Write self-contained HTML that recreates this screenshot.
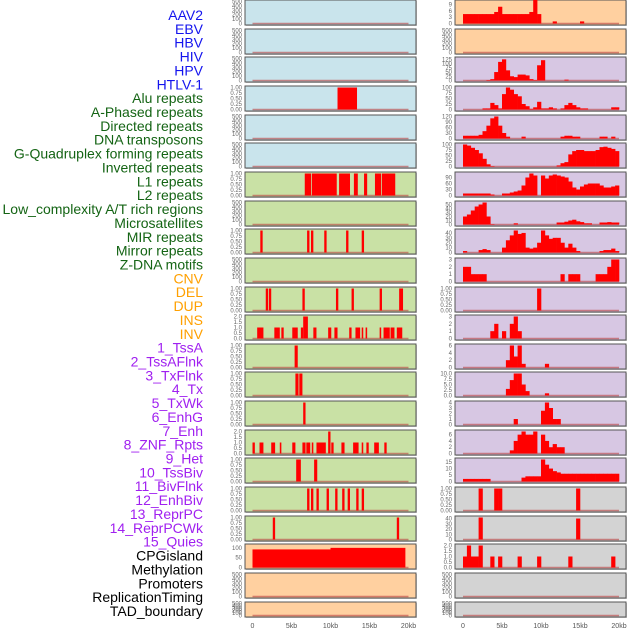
<!DOCTYPE html>
<html><head><meta charset="utf-8">
<style>
body{margin:0;background:#fff;width:630px;height:630px;overflow:hidden}
svg{display:block;font-family:"Liberation Sans",sans-serif}
</style></head>
<body>
<svg id="chart" width="630" height="630"></svg>
<script>
// ---- data ----
var trackLabels = ["AAV2","EBV","HBV","HIV","HPV","HTLV-1","Alu repeats","A-Phased repeats","Directed repeats","DNA transposons","G-Quadruplex forming repeats","Inverted repeats","L1 repeats","L2 repeats","Low_complexity A/T rich regions","Microsatellites","MIR repeats","Mirror repeats","Z-DNA motifs","CNV","DEL","DUP","INS","INV","1_TssA","2_TssAFlnk","3_TxFlnk","4_Tx","5_TxWk","6_EnhG","7_Enh","8_ZNF_Rpts","9_Het","10_TssBiv","11_BivFlnk","12_EnhBiv","13_ReprPC","14_ReprPCWk","15_Quies","CPGisland","Methylation","Promoters","ReplicationTiming","TAD_boundary"];
var labelGroups = [6,13,5,15,6];
var xTickLabels = ["0","5kb","10kb","15kb","20kb"];
var xTickValues = [0,5,10,15,20];
// left column: intervals [startKb, endKb, value]
var leftIntervals = [
 [],[],[],
 [[10.9,13.4,1]],
 [],[],
 [[6.7,7.5,1],[7.6,10.8,1],[11.1,12.5,1],[13.0,13.5,1],[14.3,14.7,1],[15.7,16.5,1],[16.6,18.3,1]],
 [],
 [[1.0,1.3,1],[7.0,7.3,1],[7.5,7.8,1],[9.2,9.5,1],[12.0,12.3,1],[14.0,14.3,1]],
 [],
 [[1.7,2.0,1],[2.1,2.4,1],[6.4,6.7,1],[10.7,11.0,1],[12.7,13.0,1],[16.3,16.6,1],[18.8,19.3,1]],
 [[0.6,1.4,1],[2.8,3.5,1],[3.7,4.0,1],[5.1,5.8,1],[6.2,6.5,1],[6.5,7.1,2],[7.8,8.2,1],[9.7,10.1,1],[10.5,10.9,1],[12.4,12.7,1],[13.2,13.8,1],[14.0,14.2,1],[14.5,14.7,1],[16.3,16.5,1],[16.8,17.6,1],[17.7,18.2,1],[18.5,19.2,1]],
 [[5.4,5.8,1]],
 [[5.5,5.9,1],[6.0,6.4,1]],
 [[6.5,6.8,1]],
 [[0,0.3,1],[0.9,1.4,1],[2.4,2.9,1],[3.5,3.7,1],[5.1,5.5,1],[6.4,6.8,1],[6.9,7.4,1],[7.6,7.8,1],[8.2,9.4,1],[9.7,10.0,2],[10.1,10.4,1],[11.4,11.8,1],[12.9,13.6,1],[14.0,14.2,1],[14.6,14.9,1],[15.6,16.2,1],[16.9,17.2,1]],
 [[5.6,6.2,1],[7.9,8.3,1]],
 [[7.0,7.3,1],[7.5,7.8,1],[8.2,8.5,1],[9.5,9.8,1],[10.6,10.9,1],[11.5,11.8,1],[12.2,12.5,1],[13.3,13.6,1],[14.0,14.3,1]],
 [[2.6,2.9,1],[18.5,18.8,1]],
 [[0,10,92],[10,19.6,100]],
 [],[]
];
var leftTicks = [
 [0,100,200,300,400,500],[0,100,200,300,400,500],[0,100,200,300,400,500],
 ["0.00","0.25","0.50","0.75","1.00"],[0,100,200,300,400,500],[0,100,200,300,400,500],
 ["0.00","0.25","0.50","0.75","1.00"],[0,100,200,300,400,500],["0.00","0.25","0.50","0.75","1.00"],
 [0,100,200,300,400,500],["0.00","0.25","0.50","0.75","1.00"],["0.0","0.5","1.0","1.5","2.0"],
 ["0.00","0.25","0.50","0.75","1.00"],["0.00","0.25","0.50","0.75","1.00"],["0.00","0.25","0.50","0.75","1.00"],
 ["0.0","0.5","1.0","1.5","2.0"],["0.00","0.25","0.50","0.75","1.00"],["0.00","0.25","0.50","0.75","1.00"],
 ["0.00","0.25","0.50","0.75","1.00"],[0,50,100],[0,100,200,300,400,500],[0,100,200,300,400,500]
];
var leftMax = [500,500,500,1,500,500,1,500,1,500,1,2,1,1,1,2,1,1,1,112,500,500];
// right column: 40 bins of 0.5kb
var rightBins = [
 [4.5,4.5,4.5,4.5,4.5,4.5,4.5,4.5,5.5,8,4.5,4.5,4.5,4.5,4.5,4.5,4.5,5.5,12,4.5,0,0,0,1,0,0,0,0,0,0,1,0,0,0,0,0,0,0,0,0],
 [],
 [0,0,0,0,0,0,3,8,50,110,125,60,25,20,35,35,30,8,3,90,120,0,0,0,0,0,5,0,0,0,0,0,0,0,0,0,0,0,0,0],
 [0,0,0,0,0,5,5,30,20,5,70,100,90,70,60,25,15,3,10,35,5,5,10,5,0,5,20,30,20,10,5,5,0,0,0,0,0,0,10,10],
 [15,15,15,15,20,40,70,110,120,70,30,10,0,0,0,10,0,0,0,0,0,0,0,0,0,10,15,15,10,10,0,0,0,0,0,10,10,0,10,0],
 [100,95,85,75,60,35,10,2,0,0,0,0,0,0,0,0,0,0,0,0,0,0,0,0,5,15,20,55,70,75,75,70,70,70,75,88,90,85,80,70],
 [10,10,10,10,10,10,10,5,0,0,10,10,15,20,25,50,90,110,100,0,100,85,100,105,100,95,90,70,40,30,45,55,60,60,60,50,40,40,45,50],
 [20,25,35,45,50,55,20,1,0,0,0,0,0,3,0,0,0,0,0,0,0,0,0,0,5,5,7,10,12,8,6,3,3,0,0,5,5,6,5,5],
 [3,0,0,0,5,7,5,0,0,0,10,25,35,45,38,40,10,8,10,20,45,35,28,30,30,20,10,18,10,3,0,0,0,0,0,3,5,5,8,3],
 [2,2,1,1,1,1,0,0,0,0,0,0,0,0,0,0,0,0,0,0,0,0,0,0,0,1,0,1,1,1,0,0,0,0,1,1,1,2,3,3],
 [0,0,0,0,0,0,0,0,0,0,0,0,0,0,0,0,0,0,0,1,0,0,0,0,0,0,0,0,0,0,0,0,0,0,0,0,0,0,0,0],
 [0,0,0,0,0,0,0,1,2,0,1,0,2,3,1,0,0,0,0,0,0,0,0,0,0,0,0,0,0,0,0,0,0,0,0,0,0,0,0,0],
 [0,0,0,0,0,0,0,0,0,0,0,2,6,3,6,1,0,0,0,0,0,1,0,0,0,0,0,0,0,0,0,0,0,0,0,0,0,0,0,0],
 [0,0,0,0,0,0,0,0,0,0,0,3,7,10,10,5,2,0,0,0,0,1,0,0,0,0,0,0,0,0,0,0,0,0,0,0,0,0,0,0],
 [0,0,0,0,0,0,0,0,0,0,0,0,0,1,0,0,0,0,0,0,2.5,4,3,1,1,0,0,0,0,0,0,0,0,0,0,0,0,0,0,0],
 [0,0,0,0,0,0,0,0,0,0,0,0,1,4,6,7,6,6,7,0,6,4,2,3,2,2,0,0,0,0,0,0,0,0,0,0,0,0,0,0],
 [2,2,2,2,2,2,2,0,0,0,0,0,0,0,0,3,4,4,4,4,17,13,10,8,7,6,6,6,6,6,6,6,6,6,6,6,6,6,6,6],
 [0,0,0,0,1,0,0,0,1,1,0,0,0,0,0,0,0,0,0,0,0,0,0,0,0,0,0,0,0,1,0,0,0,0,0,0,0,0,0,0],
 [0,0,0,0,42,0,0,0,0,0,0,0,0,0,0,0,0,0,0,0,0,0,0,0,0,0,0,0,0,40,0,0,0,0,0,0,0,0,0,0],
 [1,2,1,1,2,0,0,1,0,1,0,0,0,0,1,0,0,0,0,1,0,0,0,0,0,0,0,1,0,0,0,0,0,0,0,0,0,0,1,0],
 [],[]
];
var rightTicks = [
 [0,3,6,9],[0,100,200,300,400,500],[0,25,50,75,100,125],[0,25,50,75,100],[0,30,60,90,120],[0,25,50,75,100],
 [0,30,60,90],[0,10,20,30,40,50],[0,10,20,30,40],[0,1,2,3],["0.00","0.25","0.50","0.75","1.00"],[0,1,2,3],
 [0,2,4,6],["0.0","2.5","5.0","7.5","10.0"],[0,1,2,3,4],[0,2,4,6],[0,5,10,15],["0.00","0.25","0.50","0.75","1.00"],
 [0,10,20,30,40],["0.0","0.5","1.0","1.5","2.0"],[0,100,200,300,400,500],[0,100,200,300,400,500]
];
var rightMax = [10.5,500,130,100,120,100,110,55,45,3,1,3,6,10,4,7,17,1,42,2,500,500];

// ---- layout ----
var SVGNS = "http://www.w3.org/2000/svg";
var chartEl = document.getElementById("chart");
function mk(tag, attrs, parentEl) {
  var e = document.createElementNS(SVGNS, tag);
  for (var k in attrs) { e.setAttribute(k, String(attrs[k])); }
  (parentEl || chartEl).appendChild(e);
  return e;
}
function leftColor(i){ return i<6 ? "#c9e4ec" : (i<19 ? "#c9e1a5" : "#ffd0a0"); }
function rightColor(i){ return i<2 ? "#ffd0a0" : (i<17 ? "#d7c7e3" : "#d3d3d3"); }
var colDefs = [{x0:245,x1:416,z:252.5},{x0:455,x1:626,z:463}];
var pxPerKb = 7.8;
function rowTopY(i){ return Math.round(i*28.65); }
function rowHeight(i){ return i===21 ? 15 : 25; }

// labels
var groupColors = ["#1414ee","#146414","#ffa000","#a020f0","#000000"];
var li = 0;
for (var gi=0; gi<labelGroups.length; gi++) {
  for (var k2=0; k2<labelGroups[gi]; k2++) {
    var lt = mk("text", {x:203, y:20+li*13.86, "text-anchor":"end", "font-size":14, fill:groupColors[gi]});
    lt.textContent = trackLabels[li];
    
    
    li++;
  }
}

function drawPanel(c, i, ticks, ymax, isLeft) {
  var col = colDefs[c];
  var ty = rowTopY(i), h = rowHeight(i);
  var grp = mk("g", {});
  
  
  mk("rect", {x:col.x0+1, y:ty+1, width:col.x1-col.x0, height:h, fill:"#999", opacity:0.5}, grp);
  mk("rect", {x:col.x0, y:ty, width:col.x1-col.x0, height:h, fill:isLeft?leftColor(i):rightColor(i), stroke:"#555", "stroke-width":1}, grp);
  var base = ty + h - 1.5, span = h - 3;
  function yOf(v){ return base - v/ymax*span; }
  function xOf(kb){ return col.z + kb*pxPerKb; }
  for (var t=0; t<ticks.length; t++) {
    var v = parseFloat(ticks[t]);
    var tt = mk("text", {x:col.x0-3, y:yOf(v)+2, "text-anchor":"end", "font-size":6, fill:"#666"}, grp);
    tt.textContent = String(ticks[t]);
    
    
  }
  mk("line", {x1:xOf(0), x2:xOf(20), y1:base, y2:base, stroke:"#b44", "stroke-width":1.5, opacity:0.6}, grp);
  if (isLeft) {
    var ivs = leftIntervals[i];
    for (var a=0; a<ivs.length; a++) {
      var iv = ivs[a];
      var r = mk("rect", {x:xOf(iv[0]), y:yOf(iv[2]), width:Math.max(1.5, xOf(iv[1])-xOf(iv[0])), height:base-yOf(iv[2]), fill:"#ff0000"}, grp);
      
      
    }
  } else {
    var bins = rightBins[i];
    for (var b=0; b<bins.length; b++) {
      var bv = bins[b];
      if (!bv) continue;
      var rb = mk("rect", {x:xOf(b*0.5), y:yOf(bv), width:xOf((b+1)*0.5)-xOf(b*0.5)+0.3, height:base-yOf(bv), fill:"#ff0000"}, grp);
      
      
    }
  }
}

for (var i=0; i<22; i++) {
  try { drawPanel(0, i, leftTicks[i], leftMax[i], true); } catch(e) {}
  try { drawPanel(1, i, rightTicks[i], rightMax[i], false); } catch(e) {}
}
for (var c=0; c<2; c++) {
  for (var q=0; q<xTickValues.length; q++) {
    var xt = mk("text", {x:colDefs[c].z+xTickValues[q]*pxPerKb, y:628, "text-anchor":"middle", "font-size":7, fill:"#555"});
    xt.textContent = xTickLabels[q];
    
    
  }
}
</script>
</body></html>
